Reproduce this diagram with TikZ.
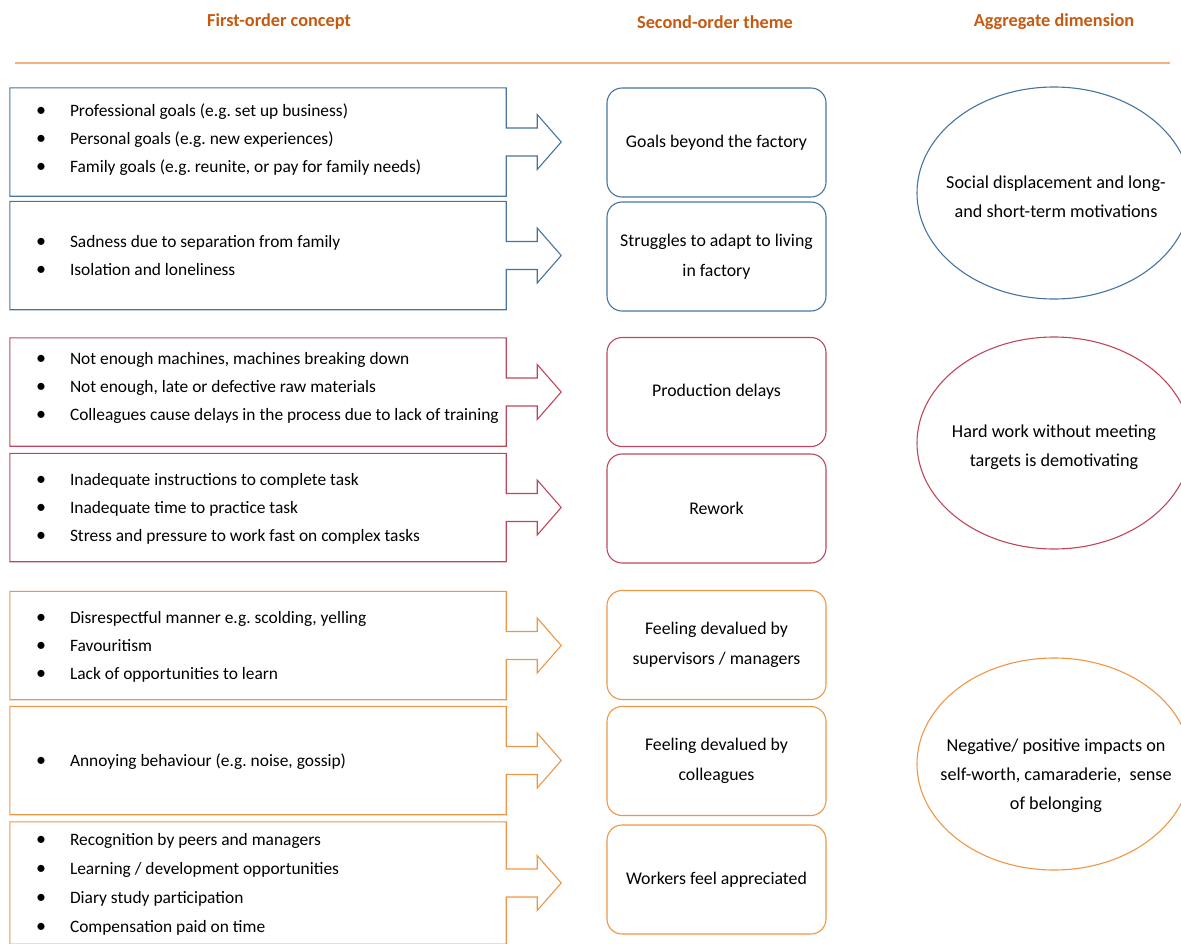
\documentclass[tikz,border=0pt]{standalone}
\usepackage{fontspec}
\setmainfont{Carlito}
\usetikzlibrary{shapes.geometric,calc}
\frenchspacing

\definecolor{hdr}{RGB}{197,90,17}
\definecolor{rulecol}{RGB}{244,177,131}
\definecolor{cblue}{RGB}{70,115,160}
\definecolor{cred}{RGB}{190,70,90}
\definecolor{corange}{RGB}{238,150,70}

% one bulleted line of a concept box
\newcommand{\itm}[1]{\makebox[34pt][l]{\fontsize{20}{28}\selectfont\textbullet}#1}
% bulleted list set flush left inside a concept box (optional raise)
\newcommand{\conceptlist}[2][0pt]{\makebox[496pt][l]{\hspace*{26pt}%
  \raisebox{#1}[\height][\depth]{\begin{tabular}{@{}l@{}}#2\end{tabular}}}}

% outline of a concept box with the block arrow on its right side
\newcommand{\calloutarrow}[2]{%
  \draw[#2,line width=1.1pt,line join=miter]
    (#1.north west) -- (#1.north east) -- ($(#1.east)+(0,-14)$)
    -- ($(#1.east)+(31,-14)$) -- ($(#1.east)+(31,-27.5)$)
    -- ($(#1.east)+(55,0)$)
    -- ($(#1.east)+(31,27.5)$) -- ($(#1.east)+(31,14)$)
    -- ($(#1.east)+(0,14)$) -- (#1.south east) -- (#1.south west) -- cycle;}

\begin{document}
\begin{tikzpicture}[x=1pt,y=-1pt,
  header/.style={font=\bfseries\fontsize{18.3}{22}\selectfont,text=hdr},
  concept/.style={rectangle,inner sep=0pt,minimum width=496pt,minimum height=108pt,
    font=\fontsize{17.4}{28}\selectfont},
  theme/.style={rectangle,rounded corners=15pt,draw,line width=1.1pt,inner sep=0pt,
    minimum width=219pt,minimum height=109pt,align=center,
    font=\fontsize{17.8}{30}\selectfont},
  dimension/.style={ellipse,draw,line width=1.1pt,inner sep=0pt,
    minimum width=274pt,minimum height=212pt},
  dimtext/.style={align=center,font=\fontsize{18.2}{29}\selectfont}]

\useasboundingbox (0,0) rectangle (1181,943);
\clip (0,0) rectangle (1181,943);

% column headings and rule
\node[header] (h1) at (279,22) {First-order concept};
\node[header] (h2) at (715,22) {Second-order theme};
\node[header] (h3) at (1054,22) {Aggregate dimension};
\coordinate (ruleL) at (15,63);
\coordinate (ruleR) at (1170,63);
\draw[rulecol,line width=1.8pt] (ruleL) -- (ruleR);

% first-order concepts
\node[concept] (a1) at (258,142) {\conceptlist[3pt]{\itm{Professional goals (e.g. set up business)}\\
  \itm{Personal goals (e.g. new experiences)}\\
  \itm{Family goals (e.g. reunite, or pay for family needs)}}};
\node[concept] (a2) at (258,255.5) {\conceptlist{\itm{Sadness due to separation from family}\\
  \itm{Isolation and loneliness}}};
\node[concept] (b1) at (258,392) {\conceptlist[5pt]{\itm{Not enough machines, machines breaking down}\\
  \itm{Not enough, late or defective raw materials}\\
  \itm{Colleagues cause delays in the process due to lack of training}}};
\node[concept] (b2) at (258,507.5) {\conceptlist{\itm{Inadequate instructions to complete task}\\
  \itm{Inadequate time to practice task}\\
  \itm{Stress and pressure to work fast on complex tasks}}};
\node[concept] (c1) at (258,645.5) {\conceptlist{\itm{Disrespectful manner e.g. scolding, yelling}\\
  \itm{Favouritism}\\
  \itm{Lack of opportunities to learn}}};
\node[concept] (c2) at (258,760.5) {\conceptlist{\itm{Annoying behaviour (e.g. noise, gossip)}}};
\node[concept,minimum height=122pt,font=\fontsize{17.4}{29}\selectfont] (c3) at (258,883) {\conceptlist{\itm{Recognition by peers and managers}\\
  \itm{Learning / development opportunities}\\
  \itm{Diary study participation}\\
  \itm{Compensation paid on time}}};

\calloutarrow{a1}{cblue}
\calloutarrow{a2}{cblue}
\calloutarrow{b1}{cred}
\calloutarrow{b2}{cred}
\calloutarrow{c1}{corange}
\calloutarrow{c2}{corange}
\calloutarrow{c3}{corange}

% second-order themes
\node[theme,draw=cblue] (t1) at (716.5,142.5) {Goals beyond the factory};
\node[theme,draw=cblue] (t2) at (716.5,256.5) {Struggles to adapt to living\\in factory};
\node[theme,draw=cred] (t3) at (716.5,392) {Production delays};
\node[theme,draw=cred] (t4) at (716.5,508.5) {Rework};
\node[theme,draw=corange] (t5) at (716.5,645) {Feeling devalued by\\supervisors / managers};
\node[theme,draw=corange] (t6) at (716.5,761) {Feeling devalued by\\colleagues};
\node[theme,draw=corange] (t7) at (716.5,879.5) {Workers feel appreciated};

% aggregate dimensions
\node[dimension,draw=cblue] (d1) at (1054,193) {};
\node[dimtext] (d1t) at (1056,197) {Social displacement and long-\\and short-term motivations};
\node[dimension,draw=cred] (d2) at (1054,443) {};
\node[dimtext] (d2t) at (1054,447) {Hard work without meeting\\targets is demotivating};
\node[dimension,draw=corange] (d3) at (1054,764) {};
\node[dimtext] (d3t) at (1056,776) {Negative/ positive impacts on\\self-worth, camaraderie,\ \ sense\\of belonging};

\end{tikzpicture}
\end{document}
